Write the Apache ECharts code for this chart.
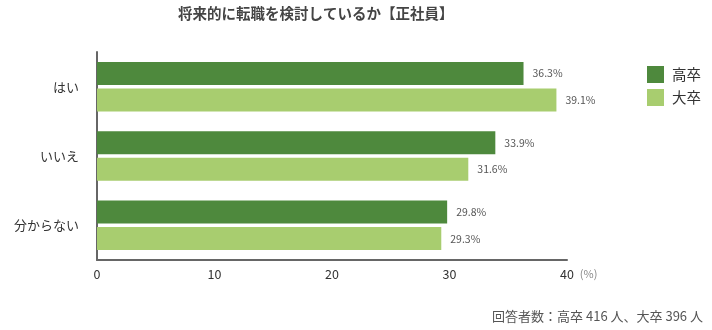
<!DOCTYPE html>
<html>
<head>
<meta charset="utf-8">
<script src="https://cdn.jsdelivr.net/npm/echarts@6/dist/echarts.min.js"></script>
<style>
  html, body { margin: 0; padding: 0; background: #fff; }
  #chart { width: 712px; height: 330px; }
</style>
</head>
<body>
<div id="chart"></div>
<script>
// Answers to "considering changing jobs in the future" (regular employees), in %
const categories = ['はい', 'いいえ', '分からない'];
const seriesNames = ['高卒', '大卒'];
const highSchool = [36.3, 33.9, 29.8];
const university = [39.1, 31.6, 29.3];
const xTicks = { min: 0, max: 40, interval: 10 };

const FONT = '"Noto Sans CJK JP", "Noto Sans", sans-serif';
const DARK = '#4e893d';
const LIGHT = '#a8cd6f';

const chart = echarts.init(document.getElementById('chart'));

const valueLabel = {
  show: true,
  position: 'right',
  distance: 9,
  formatter: p => p.value.toFixed(1) + '%',
  color: '#555',
  fontSize: 10.5,
  fontFamily: FONT
};

chart.setOption({
  animation: false,
  textStyle: { fontFamily: FONT },
  title: {
    text: '将来的に転職を検討しているか【正社員】',
    left: 173,
    top: 1,
    textStyle: { fontSize: 14.5, fontWeight: 'bold', color: '#444', fontFamily: FONT }
  },
  legend: {
    orient: 'vertical',
    left: 647,
    top: 66,
    padding: 0,
    itemWidth: 17,
    itemHeight: 17,
    itemGap: 6,
    icon: 'rect',
    textStyle: { fontSize: 14.5, color: '#333', fontFamily: FONT, padding: [0, 0, 0, 3] },
    data: seriesNames
  },
  graphic: [{
    type: 'text',
    right: 9,
    top: 310,
    style: {
      text: '回答者数：高卒 416 人、大卒 396 人',
      fill: '#555',
      fontSize: 13,
      fontFamily: FONT
    }
  }],
  grid: { left: 97, right: 145, top: 52, bottom: 70, containLabel: false },
  xAxis: {
    type: 'value',
    min: xTicks.min,
    max: xTicks.max,
    interval: xTicks.interval,
    name: '(%)',
    nameLocation: 'end',
    nameGap: 12,
    nameTextStyle: { color: '#888', fontSize: 11, verticalAlign: 'top', padding: [8, 0, 0, 0], fontFamily: FONT },
    axisLine: { show: true, lineStyle: { color: '#666', width: 2 } },
    axisTick: { show: false },
    splitLine: { show: false },
    axisLabel: { color: '#333', fontSize: 12.5, margin: 8, fontFamily: FONT }
  },
  yAxis: {
    type: 'category',
    inverse: true,
    data: categories,
    axisLine: { show: true, lineStyle: { color: '#666', width: 2 } },
    axisTick: { show: false },
    axisLabel: { color: '#333', fontSize: 13, margin: 18, fontFamily: FONT }
  },
  series: [
    {
      name: seriesNames[0],
      type: 'bar',
      data: highSchool,
      barWidth: 23,
      barGap: '15%',
      itemStyle: { color: DARK },
      label: valueLabel
    },
    {
      name: seriesNames[1],
      type: 'bar',
      data: university,
      barWidth: 23,
      barGap: '15%',
      itemStyle: { color: LIGHT },
      label: valueLabel
    }
  ]
});
</script>
</body>
</html>
